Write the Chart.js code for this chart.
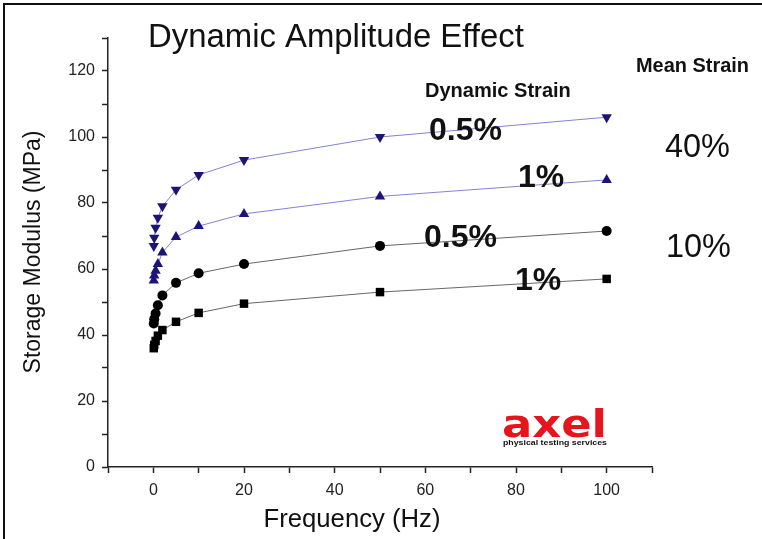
<!DOCTYPE html>
<html>
<head>
<meta charset="utf-8">
<script src="https://cdn.jsdelivr.net/npm/chart.js@4.4.1/dist/chart.umd.min.js"></script>
<style>
html,body{margin:0;padding:0;background:#fff;}
#wrap{position:absolute;left:0;top:0;width:762px;height:539px;overflow:hidden;}
#frame{position:absolute;left:3px;top:3px;width:759px;height:536px;border-left:2px solid #111;border-top:2px solid #111;box-sizing:border-box;pointer-events:none;}
canvas{position:absolute;left:0;top:0;}
</style>
</head>
<body>
<div id="wrap"><canvas id="c" width="762" height="539"></canvas><div id="frame"></div></div>
<script>
// ---- data ----
const frequencies = [0.1, 0.2, 0.5, 1, 2, 5, 10, 20, 50, 100];
const mean40_dyn05 = [67, 69.5, 72.5, 75.5, 79, 84, 88.5, 93, 100, 106];
const mean40_dyn1  = [56.5, 58, 59.5, 61.5, 65, 69.7, 73, 76.7, 82, 87];
const mean10_dyn05 = [43.5, 44.8, 46.5, 49, 52, 55.8, 58.7, 61.5, 67, 71.5];
const mean10_dyn1  = [36, 37, 38.2, 39.8, 41.5, 44, 46.7, 49.5, 53, 57];
const xTickLabels = [0, 20, 40, 60, 80, 100];
const yTickLabels = [0, 20, 40, 60, 80, 100, 120];

const FAMILY = '"Liberation Sans", Arial, Helvetica, sans-serif';
const toPts = (xs, ys) => xs.map((x, i) => ({x: x, y: ys[i]}));

function fitText(ctx, text, weight, x, y, w, family, align) {
  family = family || FAMILY;
  ctx.font = weight + ' 100px ' + family;
  const m = ctx.measureText(text).width;
  const size = 100 * w / m;
  ctx.font = weight + ' ' + size.toFixed(2) + 'px ' + family;
  ctx.textAlign = align || 'left';
  ctx.fillText(text, x, y);
  return size;
}

const annot = {
  id: 'annot',
  afterDraw(chart) {
    const ctx = chart.ctx;
    ctx.save();
    ctx.fillStyle = '#111';
    ctx.textBaseline = 'alphabetic';
    // title
    fitText(ctx, 'Dynamic Amplitude Effect', 'normal', 148, 47, 376);
    // headers
    fitText(ctx, 'Dynamic Strain', 'bold', 425, 97, 146);
    fitText(ctx, 'Mean Strain', 'bold', 636, 72, 113);
    // dynamic strain labels
    const s = fitText(ctx, '0.5%', 'bold', 429, 140, 73);
    ctx.font = 'bold ' + s.toFixed(2) + 'px ' + FAMILY;
    ctx.fillText('1%', 518, 187);
    ctx.fillText('0.5%', 424, 247);
    ctx.fillText('1%', 515, 290);
    // mean strain labels
    const s2 = fitText(ctx, '40%', 'normal', 665, 157, 65);
    ctx.font = 'normal ' + s2.toFixed(2) + 'px ' + FAMILY;
    ctx.fillText('10%', 666, 257);
    // axis titles
    fitText(ctx, 'Frequency (Hz)', 'normal', 352, 527, 177, null, 'center');
    ctx.save();
    ctx.translate(40, 252);
    ctx.rotate(-Math.PI / 2);
    fitText(ctx, 'Storage Modulus (MPa)', 'normal', 0, 0, 243, null, 'center');
    ctx.restore();
    // logo
    ctx.save();
    ctx.fillStyle = '#e8141c';
    ctx.font = 'bold 37px "DejaVu Sans", ' + FAMILY;
    const lw = ctx.measureText('axel').width;
    ctx.translate(502, 437);
    ctx.scale(105 / lw, 1);
    ctx.textAlign = 'left';
    ctx.fillText('axel', 0, 0);
    ctx.restore();
    ctx.save();
    ctx.fillStyle = '#111';
    ctx.font = 'bold 7px ' + FAMILY;
    const pw = ctx.measureText('physical testing services').width;
    ctx.translate(503, 445);
    ctx.scale(104 / pw, 1);
    ctx.textAlign = 'left';
    ctx.fillText('physical testing services', 0, 0);
    ctx.restore();
    ctx.restore();
  }
};

const navy = '#1d1478';
const navyLine = '#8582d2';
const blackLine = '#666666';

new Chart(document.getElementById('c'), {
  type: 'scatter',
  data: {
    datasets: [
      {label: '40% / 0.5%', data: toPts(frequencies, mean40_dyn05), showLine: true, tension: 0,
       borderColor: navyLine, borderWidth: 1, pointStyle: 'triangle', rotation: 180,
       pointRadius: 6, pointBackgroundColor: navy, pointBorderColor: navy, pointBorderWidth: 0},
      {label: '40% / 1%', data: toPts(frequencies, mean40_dyn1), showLine: true, tension: 0,
       borderColor: navyLine, borderWidth: 1, pointStyle: 'triangle',
       pointRadius: 6, pointBackgroundColor: navy, pointBorderColor: navy, pointBorderWidth: 0},
      {label: '10% / 0.5%', data: toPts(frequencies, mean10_dyn05), showLine: true, tension: 0,
       borderColor: blackLine, borderWidth: 1, pointStyle: 'circle',
       pointRadius: 5, pointBackgroundColor: '#000', pointBorderColor: '#000', pointBorderWidth: 0},
      {label: '10% / 1%', data: toPts(frequencies, mean10_dyn1), showLine: true, tension: 0,
       borderColor: blackLine, borderWidth: 1, pointStyle: 'rect',
       pointRadius: 6, pointBackgroundColor: '#000', pointBorderColor: '#000', pointBorderWidth: 0}
    ]
  },
  options: {
    responsive: false,
    animation: false,
    devicePixelRatio: 1,
    layout: {padding: {left: 0, right: 110, top: 38, bottom: 0}},
    plugins: {legend: {display: false}, tooltip: {enabled: false}, title: {display: false}},
    scales: {
      x: {
        type: 'linear', min: -10, max: 110,
        afterFit: (s) => { s.height = 72; },
        ticks: {stepSize: 10, autoSkip: false, maxRotation: 0, padding: 8, color: '#222',
                font: {family: FAMILY, size: 16},
                callback: (v) => xTickLabels.includes(v) ? String(v) : ''},
        grid: {drawOnChartArea: false, drawTicks: true, tickLength: 6, tickColor: '#222', tickWidth: 1.5},
        border: {display: true, color: '#222', width: 1.5}
      },
      y: {
        type: 'linear', min: 0, max: 130,
        afterFit: (s) => { s.width = 108; },
        ticks: {stepSize: 10, autoSkip: false, padding: 7, color: '#222',
                font: {family: FAMILY, size: 16},
                callback: (v) => yTickLabels.includes(v) ? String(v) : ''},
        grid: {drawOnChartArea: false, drawTicks: true, tickLength: 6, tickColor: '#222', tickWidth: 1.5},
        border: {display: true, color: '#222', width: 1.5}
      }
    }
  },
  plugins: [annot]
});
</script>
</body>
</html>
